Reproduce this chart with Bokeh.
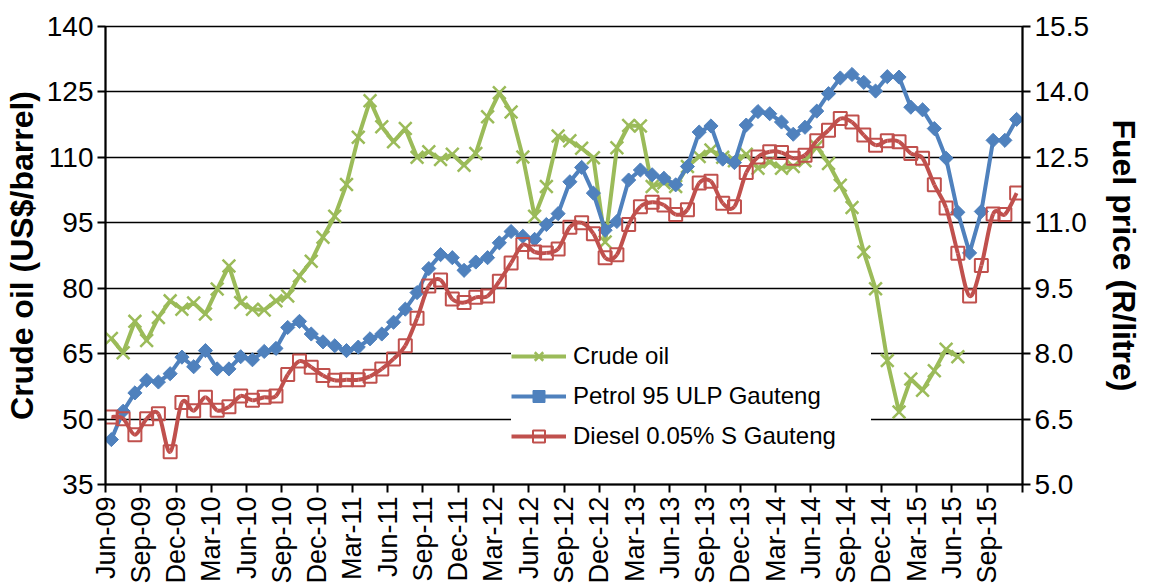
import numpy as np
from bokeh.plotting import figure
from bokeh.models import (Range1d, LinearAxis, FixedTicker, PrintfTickFormatter,
                          Legend, LegendItem)
from bokeh.embed import file_html
from bokeh.resources import INLINE

# ---------------- data ----------------
tick_labels = ["Jun-09", "Sep-09", "Dec-09", "Mar-10", "Jun-10", "Sep-10", "Dec-10",
               "Mar-11", "Jun-11", "Sep-11", "Dec-11", "Mar-12", "Jun-12", "Sep-12",
               "Dec-12", "Mar-13", "Jun-13", "Sep-13", "Dec-13", "Mar-14", "Jun-14",
               "Sep-14", "Dec-14", "Mar-15", "Jun-15", "Sep-15"]

# Crude oil, US$/barrel (monthly, Jun-09 .. Jun-15)
crude_oil = [68.5, 65.2, 72.4, 68.0, 73.3, 77.1, 75.2, 76.6, 74.1, 79.8,
             85.1, 76.7, 75.2, 75.0, 77.1, 78.2, 82.8, 86.2, 91.7, 96.5,
             103.8, 114.6, 123.0, 117.0, 113.6, 116.6, 110.0, 111.3, 109.5, 110.7,
             108.2, 110.9, 119.3, 124.8, 120.4, 110.1, 96.5, 103.3, 114.9, 113.8,
             112.1, 109.9, 90.6, 112.2, 117.3, 117.2, 103.3, 104.2, 103.3, 107.9,
             110.2, 111.7, 110.0, 109.2, 110.7, 107.5, 109.0, 107.5, 107.9, 109.2,
             112.5, 108.6, 103.6, 98.5, 88.3, 79.9, 63.4, 51.6, 59.2, 56.6,
             61.1, 66.0, 64.3]

# Petrol 95 ULP Gauteng, R/litre (monthly, Jun-09 .. Nov-15)
petrol_95 = [6.03, 6.68, 7.10, 7.39, 7.35, 7.54, 7.92, 7.70, 8.07, 7.65,
             7.65, 7.93, 7.86, 8.05, 8.12, 8.60, 8.74, 8.45, 8.27, 8.18,
             8.07, 8.15, 8.34, 8.45, 8.72, 9.02, 9.40, 9.95, 10.27, 10.20,
             9.91, 10.10, 10.20, 10.54, 10.80, 10.69, 10.62, 10.96, 11.21, 11.94,
             12.27, 11.68, 10.83, 11.03, 11.98, 12.21, 12.10, 12.02, 11.87, 12.29,
             13.08, 13.22, 12.46, 12.38, 13.24, 13.55, 13.50, 13.31, 13.03, 13.19,
             13.56, 13.96, 14.32, 14.40, 14.22, 14.02, 14.35, 14.34, 13.65, 13.59,
             13.16, 12.48, 11.24, 10.31, 11.26, 12.89, 12.89, 13.37]

# Diesel 0.05% S Gauteng, R/litre (monthly, Jun-09 .. Nov-15)
diesel_005 = [6.55, 6.51, 6.14, 6.51, 6.62, 5.75, 6.88, 6.69, 7.00, 6.70,
              6.78, 7.03, 6.93, 7.00, 7.03, 7.52, 7.83, 7.69, 7.50, 7.39,
              7.40, 7.40, 7.48, 7.65, 7.88, 8.18, 8.81, 9.55, 9.69, 9.25,
              9.17, 9.29, 9.32, 9.66, 10.08, 10.50, 10.33, 10.31, 10.40, 10.90,
              11.00, 10.75, 10.20, 10.27, 10.96, 11.37, 11.47, 11.41, 11.19, 11.30,
              11.91, 11.95, 11.45, 11.37, 12.15, 12.51, 12.63, 12.61, 12.48, 12.55,
              12.88, 13.12, 13.39, 13.31, 13.01, 12.78, 12.88, 12.86, 12.59, 12.48,
              11.87, 11.34, 10.30, 9.32, 10.02, 11.20, 11.19, 11.68]

left_ticks = [35, 50, 65, 80, 95, 110, 125, 140]
right_ticks = [5.0, 6.5, 8.0, 9.5, 11.0, 12.5, 14.0, 15.5]

# ---------------- style ----------------
FONT = "Liberation Sans"
GREEN = "#9BBB59"
BLUE = "#4F81BD"
RED = "#C0504D"

n_slots = len(petrol_95)
x_crude = [i + 0.5 for i in range(len(crude_oil))]
x_fuel = [i + 0.5 for i in range(n_slots)]

p = figure(width=1149, height=586, output_backend="svg", toolbar_location=None,
           x_range=Range1d(0, n_slots), y_range=Range1d(left_ticks[0], left_ticks[-1]),
           min_border_left=103, min_border_right=127, min_border_top=26,
           min_border_bottom=100)
p.extra_y_ranges = {"fuel": Range1d(right_ticks[0], right_ticks[-1])}
p.background_fill_color = "white"
p.border_fill_color = "white"
p.outline_line_color = "black"
p.outline_line_width = 1.5

# grid
p.xgrid.visible = False
p.ygrid.ticker = FixedTicker(ticks=left_ticks)
p.ygrid.grid_line_color = "black"
p.ygrid.grid_line_width = 1.4

# x axis
xt = list(range(0, n_slots + 1, 3))
p.xaxis.ticker = FixedTicker(ticks=xt)
overrides = {}
for k, t in enumerate(xt):
    overrides[t] = tick_labels[k] if k < len(tick_labels) else ""
p.xaxis.major_label_overrides = overrides
p.xaxis.major_label_orientation = np.pi / 2


def style_axis(ax, tick_fs):
    ax.axis_line_color = "black"
    ax.axis_line_width = 2
    ax.major_tick_line_color = "black"
    ax.major_tick_line_width = 2
    ax.major_tick_out = 8
    ax.major_tick_in = 0
    ax.minor_tick_line_color = None
    ax.major_label_text_font = FONT
    ax.major_label_text_font_size = tick_fs
    ax.major_label_text_color = "black"
    ax.major_label_standoff = 4
    ax.axis_label_text_font = FONT
    ax.axis_label_text_font_size = "32px"
    ax.axis_label_text_font_style = "bold"
    ax.axis_label_text_color = "black"


style_axis(p.xaxis[0], "27px")

# left axis
p.yaxis.ticker = FixedTicker(ticks=left_ticks)
p.yaxis.axis_label = "Crude oil (US$/barrel)"
style_axis(p.yaxis[0], "28px")
p.yaxis.axis_label_standoff = 4

# right axis
ry = LinearAxis(y_range_name="fuel", axis_label="Fuel price (R/litre)",
                ticker=FixedTicker(ticks=right_ticks),
                formatter=PrintfTickFormatter(format="%.1f"))
style_axis(ry, "28px")
ry.axis_label_standoff = 14
p.add_layout(ry, "right")

# ---------------- series ----------------
# Crude oil (primary axis)
c_line = p.line(x_crude, crude_oil, line_color=GREEN, line_width=4)
c_mark = p.scatter(x_crude, crude_oil, marker="x", size=18, line_color=GREEN,
                   line_width=2.5)

# Petrol (secondary axis)
p_line = p.line(x_fuel, petrol_95, line_color=BLUE, line_width=4, y_range_name="fuel")
p_mark = p.scatter(x_fuel, petrol_95, marker="square", angle=np.pi / 4, size=10,
                   fill_color=BLUE, line_color=BLUE, line_width=1, y_range_name="fuel")

# Diesel (secondary axis) - smoothed line drawn as Bezier segments (Catmull-Rom)
xs = np.array(x_fuel)
ys = np.array(diesel_005)
xp = np.concatenate([[xs[0]], xs, [xs[-1]]])
yp = np.concatenate([[ys[0]], ys, [ys[-1]]])
x0 = xs[:-1]; y0 = ys[:-1]; x1 = xs[1:]; y1 = ys[1:]
cx0 = x0 + (xp[2:-1] - xp[:-3]) / 6.0
cy0 = y0 + (yp[2:-1] - yp[:-3]) / 6.0
cx1 = x1 - (xp[3:] - xp[1:-2]) / 6.0
cy1 = y1 - (yp[3:] - yp[1:-2]) / 6.0
d_curve = p.bezier(x0=x0, y0=y0, x1=x1, y1=y1, cx0=cx0, cy0=cy0, cx1=cx1, cy1=cy1,
                   line_color=RED, line_width=4, y_range_name="fuel")
d_mark = p.scatter(x_fuel, diesel_005, marker="square", size=13, fill_color=None,
                   line_color=RED, line_width=2, y_range_name="fuel")

legend = Legend(items=[
    LegendItem(label="Crude oil", renderers=[c_line, c_mark]),
    LegendItem(label="Petrol 95 ULP Gauteng", renderers=[p_line, p_mark]),
    LegendItem(label="Diesel 0.05% S Gauteng", renderers=[d_curve, d_mark]),
], location=(406, 33))
legend.margin = 0
legend.padding = 32
legend.spacing = 10
legend.glyph_width = 55
legend.glyph_height = 30
legend.label_height = 30
legend.label_width = 298
legend.label_standoff = 7
legend.label_text_font = FONT
legend.label_text_font_size = "24px"
legend.label_text_color = "black"
legend.background_fill_color = "white"
legend.background_fill_alpha = 1.0
legend.border_line_color = None
p.add_layout(legend)

open("out.html", "w").write(file_html(p, INLINE))
